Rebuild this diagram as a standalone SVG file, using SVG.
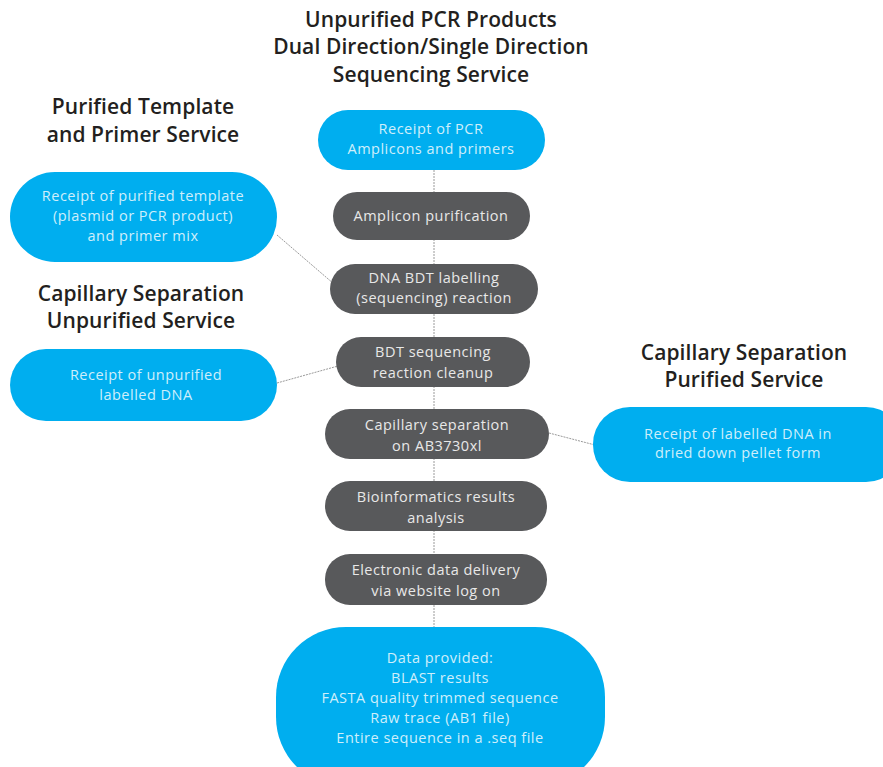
<svg xmlns="http://www.w3.org/2000/svg" width="883" height="767" viewBox="0 0 883 767">
<style>
.h{font-family:"Open Sans","Liberation Sans",sans-serif;font-weight:600;font-size:21px;letter-spacing:0.1px;fill:#231f20;text-anchor:middle}
.t{font-family:"Open Sans","Liberation Sans",sans-serif;font-size:14.5px;letter-spacing:0.5px;text-anchor:middle}
.b{fill:#00aeef}
.g{fill:#58595b}
.bt{fill:#cfeefb}
.gt{fill:#e8e8e8}
.c{stroke:#9a9a9a;stroke-width:1;stroke-dasharray:2 1;fill:none}
</style>
<rect width="883" height="767" fill="#ffffff"/>
<g id="headings">
<text class="h" x="431" y="27">Unpurified PCR Products</text>
<text class="h" x="431" y="54">Dual Direction/Single Direction</text>
<text class="h" x="431" y="82">Sequencing Service</text>
<text class="h" x="143" y="114">Purified Template</text>
<text class="h" x="143" y="142">and Primer Service</text>
<text class="h" x="141" y="301">Capillary Separation</text>
<text class="h" x="141" y="328">Unpurified Service</text>
<text class="h" x="744" y="360">Capillary Separation</text>
<text class="h" x="744" y="387">Purified Service</text>
</g>
<g id="connectors">
<line class="c" x1="434" y1="170" x2="434" y2="627"/>
<line class="c" x1="277" y1="235" x2="334" y2="284"/>
<line class="c" x1="277" y1="383" x2="338" y2="366"/>
<line class="c" x1="549" y1="433" x2="595" y2="445"/>
</g>
<g id="n1"><rect class="b" x="318" y="110" width="227" height="60" rx="30"/>
<text class="t bt" x="431" y="134">Receipt of PCR</text><text class="t bt" x="431" y="154">Amplicons and primers</text></g>
<g id="n2"><rect class="g" x="333" y="192" width="197" height="48" rx="24"/>
<text class="t gt" x="431" y="221">Amplicon purification</text></g>
<g id="n3"><rect class="g" x="330" y="264" width="208" height="50" rx="25"/>
<text class="t gt" x="434" y="283">DNA BDT labelling</text><text class="t gt" x="434" y="303">(sequencing) reaction</text></g>
<g id="n4"><rect class="g" x="336" y="337" width="194" height="50" rx="25"/>
<text class="t gt" x="433" y="357">BDT sequencing</text><text class="t gt" x="433" y="378">reaction cleanup</text></g>
<g id="n5"><rect class="g" x="325" y="409" width="224" height="50" rx="25"/>
<text class="t gt" x="437" y="430">Capillary separation</text><text class="t gt" x="437" y="451">on AB3730xl</text></g>
<g id="n6"><rect class="g" x="325" y="481" width="222" height="50" rx="25"/>
<text class="t gt" x="436" y="502">Bioinformatics results</text><text class="t gt" x="436" y="523">analysis</text></g>
<g id="n7"><rect class="g" x="325" y="554" width="222" height="51" rx="25"/>
<text class="t gt" x="436" y="575">Electronic data delivery</text><text class="t gt" x="436" y="596">via website log on</text></g>
<g id="n8"><rect class="b" x="276" y="627" width="329" height="160" rx="70"/>
<text class="t bt" x="440" y="663">Data provided:</text>
<text class="t bt" x="440" y="683">BLAST results</text>
<text class="t bt" x="440" y="703">FASTA quality trimmed sequence</text>
<text class="t bt" x="440" y="723">Raw trace (AB1 file)</text>
<text class="t bt" x="440" y="743">Entire sequence in a .seq file</text></g>
<g id="n9"><rect class="b" x="10" y="172" width="267" height="90" rx="45"/>
<text class="t bt" x="143" y="201">Receipt of purified template</text>
<text class="t bt" x="143" y="221">(plasmid or PCR product)</text>
<text class="t bt" x="143" y="241">and primer mix</text></g>
<g id="n10"><rect class="b" x="10" y="349" width="267" height="72" rx="36"/>
<text class="t bt" x="146" y="380">Receipt of unpurified</text>
<text class="t bt" x="146" y="400">labelled DNA</text></g>
<g id="n11"><rect class="b" x="593" y="407" width="310" height="75" rx="37"/>
<text class="t bt" x="738" y="439">Receipt of labelled DNA in</text>
<text class="t bt" x="738" y="458">dried down pellet form</text></g>
</svg>
